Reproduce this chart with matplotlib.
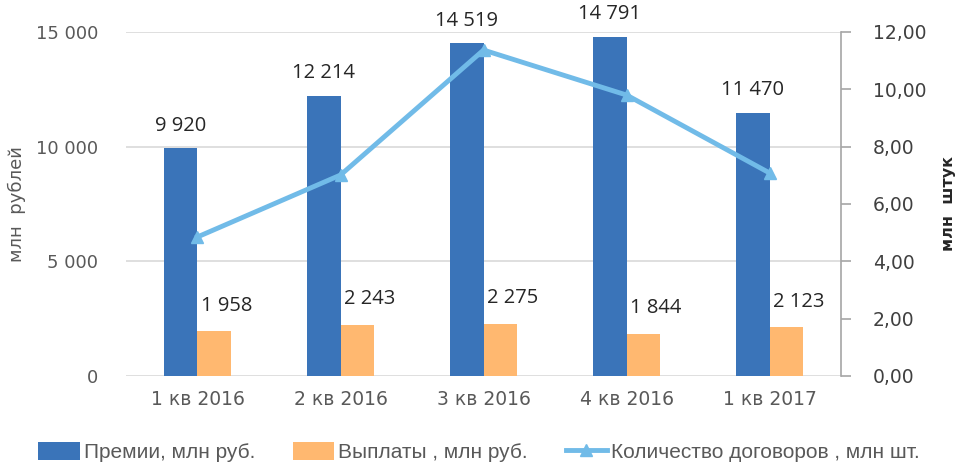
import matplotlib
import numpy as np

matplotlib.use("Agg")
import matplotlib.pyplot as plt
from matplotlib.ticker import FuncFormatter

quarters = ["1 кв 2016", "2 кв 2016", "3 кв 2016", "4 кв 2016", "1 кв 2017"]
premiums = [9920, 12214, 14519, 14791, 11470]
payouts = [1958, 2243, 2275, 1844, 2123]
contracts = [4.85, 7.01, 11.37, 9.80, 7.08]

BLUE = "#3a74b9"
ORANGE = "#ffb870"
LIGHT = "#71bbe8"
GREY = "#595959"

fig = plt.figure(figsize=(9.58, 4.67), dpi=100)
ax = fig.add_axes([0.1315, 0.195, 0.7465, 0.7365])
ax2 = ax.twinx()

x = np.arange(len(quarters))
w = 0.235
b1 = ax.bar(x - w / 2, premiums, w, color=BLUE, label="Премии, млн руб.", zorder=2)
b2 = ax.bar(x + w / 2, payouts, w, color=ORANGE, label="Выплаты , млн руб.", zorder=2)
ln, = ax2.plot(x, contracts, color=LIGHT, lw=3.5, marker="^", ms=9,
               label="Количество договоров , млн шт.", zorder=3)

for xi, v in zip(x - w / 2, premiums):
    ax.annotate(f"{v:,}".replace(",", " "), (xi, v), xytext=(0, 9),
                textcoords="offset points", ha="center", va="bottom",
                fontsize=14.5, color="#262626", family="Open Sans")
for xi, v in zip(x + w / 2, payouts):
    ax.annotate(f"{v:,}".replace(",", " "), (xi, v), xytext=(9, 11),
                textcoords="offset points", ha="center", va="bottom",
                fontsize=14.5, color="#262626", family="Open Sans")

ax.set_xlim(-0.5, len(quarters) - 0.5)
ax.set_ylim(0, 15000)
ax.set_yticks([0, 5000, 10000, 15000])
ax.yaxis.set_major_formatter(FuncFormatter(lambda v, _: f"{int(v):,}".replace(",", " ")))
ax.grid(axis="y", color="#d9d9d9", lw=1.2, zorder=0)
ax.set_axisbelow(True)
for s in ax.spines.values():
    s.set_visible(False)
ax.tick_params(axis="y", length=0, pad=20, labelsize=13, labelcolor=GREY)
ax.set_xticks(x)
ax.set_xticklabels(quarters)
ax.tick_params(axis="x", length=0, pad=10, labelsize=13.5, labelcolor=GREY)
ax.set_ylabel("млн  рублей", fontsize=13, color=GREY, va="center")
ax.yaxis.set_label_coords(-0.152, 0.5)

ax2.set_ylim(0, 12)
ax2.set_yticks(np.arange(0, 13, 2))
ax2.yaxis.set_major_formatter(FuncFormatter(lambda v, _: f"{v:.2f}".replace(".", ",")))
for k in ["top", "left", "bottom"]:
    ax2.spines[k].set_visible(False)
ax2.spines["right"].set_color("#a6a6a6")
ax2.spines["right"].set_linewidth(1.2)
ax2.tick_params(axis="y", length=7, width=1.2, color="#a6a6a6", pad=16,
                labelsize=13.5, labelcolor="#404040")
ax2.set_ylabel("млн  штук", fontsize=11.5, fontweight="bold", color="#262626",
               rotation=90, va="center")
ax2.yaxis.set_label_coords(1.15, 0.5)

fig.legend(handles=[b1, b2, ln], loc="lower left", bbox_to_anchor=(0.02, -0.03),
           ncol=3, frameon=False, handlelength=2.0, handleheight=0.9,
           columnspacing=1.8, handletextpad=0.2,
           prop={"family": ["Liberation Sans Narrow", "Liberation Sans"], "size": 15})
for t in fig.legends[0].get_texts():
    t.set_color(GREY)

fig.savefig("out.png", dpi=100)
